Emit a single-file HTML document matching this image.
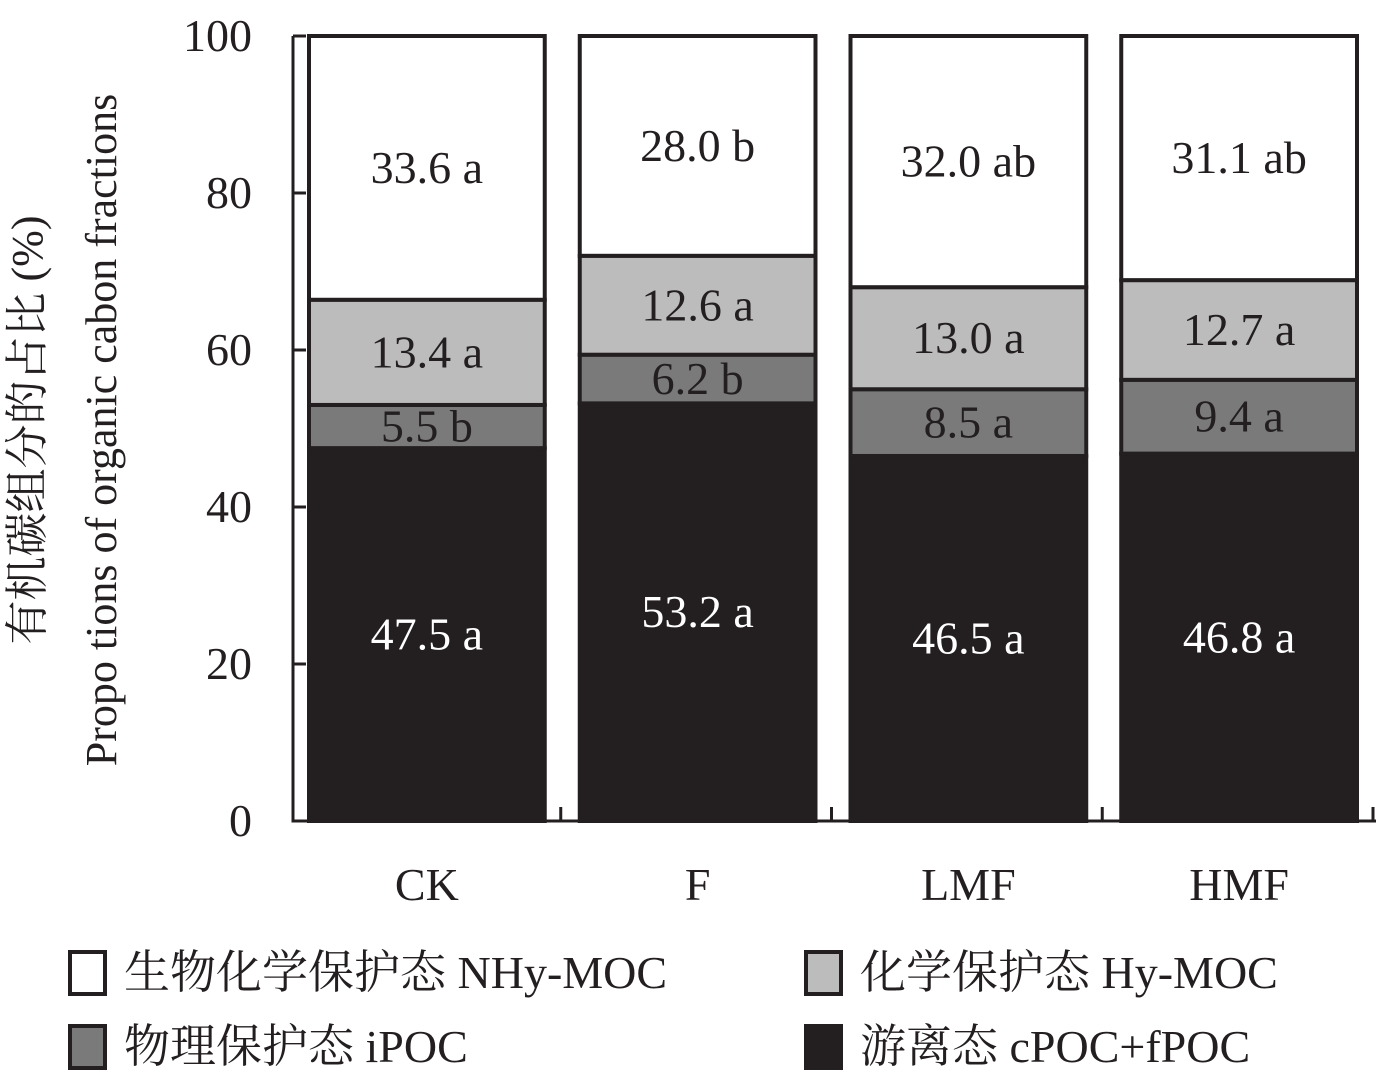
<!DOCTYPE html>
<html><head><meta charset="utf-8"><style>
body{margin:0;background:#fff;}
svg text{font-family:"Liberation Serif","Noto Serif CJK SC",serif;}
</style></head><body>
<svg width="1378" height="1087" viewBox="0 0 1378 1087" xmlns="http://www.w3.org/2000/svg">
<g id="plot"></g>
<g>
<text transform="translate(42,430) rotate(-90)" text-anchor="middle" font-size="44" fill="#231f20">有机碳组分的占比 (%)</text>
<text transform="translate(116,430) rotate(-90)" text-anchor="middle" font-size="44" fill="#231f20">Propo tions of organic cabon fractions</text>
</g>
<g font-size="46" fill="#231f20">
<rect x="70" y="952" width="35" height="42" fill="#fff" stroke="#231f20" stroke-width="4"/>
<text x="124" y="988" fill="#231f20">生物化学保护态 NHy-MOC</text>
<rect x="806" y="952" width="35" height="42" fill="#bcbcbc" stroke="#231f20" stroke-width="4"/>
<text x="860" y="988" fill="#231f20">化学保护态 Hy-MOC</text>
<rect x="70" y="1026" width="35" height="42" fill="#7a7a7a" stroke="#231f20" stroke-width="4"/>
<text x="124" y="1062" fill="#231f20">物理保护态 iPOC</text>
<rect x="806" y="1026" width="35" height="42" fill="#231f20" stroke="#231f20" stroke-width="4"/>
<text x="860" y="1062" fill="#231f20">游离态 cPOC+fPOC</text>
</g>
</svg>
<script>
const categories = ["CK","F","LMF","HMF"];
const freePOC = [47.5,53.2,46.5,46.8];
const iPOC = [5.5,6.2,8.5,9.4];
const hyMOC = [13.4,12.6,13.0,12.7];
const nhyMOC = [33.6,28.0,32.0,31.1];
const freeLetters = ["a","a","a","a"];
const iLetters = ["b","b","a","a"];
const hyLetters = ["a","a","a","a"];
const nhyLetters = ["a","b","ab","ab"];
const yTicks = [0,20,40,60,80,100];

const NS="http://www.w3.org/2000/svg";
const g=document.getElementById('plot');
const x0=293, xEnd=1376, yBase=821, yTop=36;
const y=v=>yBase-(v/100)*(yBase-yTop);
const slot=(xEnd-x0)/categories.length;
const bx=i=>x0+slot*i+16;
const bw=slot-2*16-3;
function mk(tag,attrs){const e=document.createElementNS(NS,tag);for(const k in attrs)e.setAttribute(k,attrs[k]);g.appendChild(e);return e;}
const series=[
 {vals:freePOC,letters:freeLetters,fill:"#231f20",tc:"#fff",name:"free-poc"},
 {vals:iPOC,letters:iLetters,fill:"#7a7a7a",tc:"#231f20",name:"ipoc"},
 {vals:hyMOC,letters:hyLetters,fill:"#bcbcbc",tc:"#231f20",name:"hy-moc"},
 {vals:nhyMOC,letters:nhyLetters,fill:"#fff",tc:"#231f20",name:"nhy-moc"}];
categories.forEach((c,i)=>{
 let cum=0;
 series.forEach(s=>{
  const v=s.vals[i];
  const r=mk('rect',{x:bx(i),y:y(cum+v),width:bw,height:y(cum)-y(cum+v),fill:s.fill,stroke:"#231f20","stroke-width":4});
  
  
  const t=mk('text',{x:bx(i)+bw/2,y:y(cum+v/2)+15,"text-anchor":"middle","font-size":46,fill:s.tc});
  t.textContent=v.toFixed(1)+' '+s.letters[i];
  
  
  cum+=v;
 });
 const xl=mk('text',{x:bx(i)+bw/2,y:900,"text-anchor":"middle","font-size":46,fill:"#231f20"});
 xl.textContent=c;
 
 
 const tk=mk('line',{x1:x0+slot*(i+1)-3,x2:x0+slot*(i+1)-3,y1:yBase,y2:yBase-14,stroke:"#231f20","stroke-width":3});
 
 
});
const ax=mk('path',{d:`M${x0} ${yTop} V${yBase} H${xEnd}`,fill:"none",stroke:"#231f20","stroke-width":3});


yTicks.forEach(v=>{
 const l=mk('line',{x1:x0,x2:x0+13,y1:y(v),y2:y(v),stroke:"#231f20","stroke-width":3});
 
 
 const t=mk('text',{x:x0-42,y:y(v)+15,"text-anchor":"end","font-size":46,fill:"#231f20"});
 t.setAttribute('x',252);
 t.textContent=v;
 
 
});
</script>
</body></html>
